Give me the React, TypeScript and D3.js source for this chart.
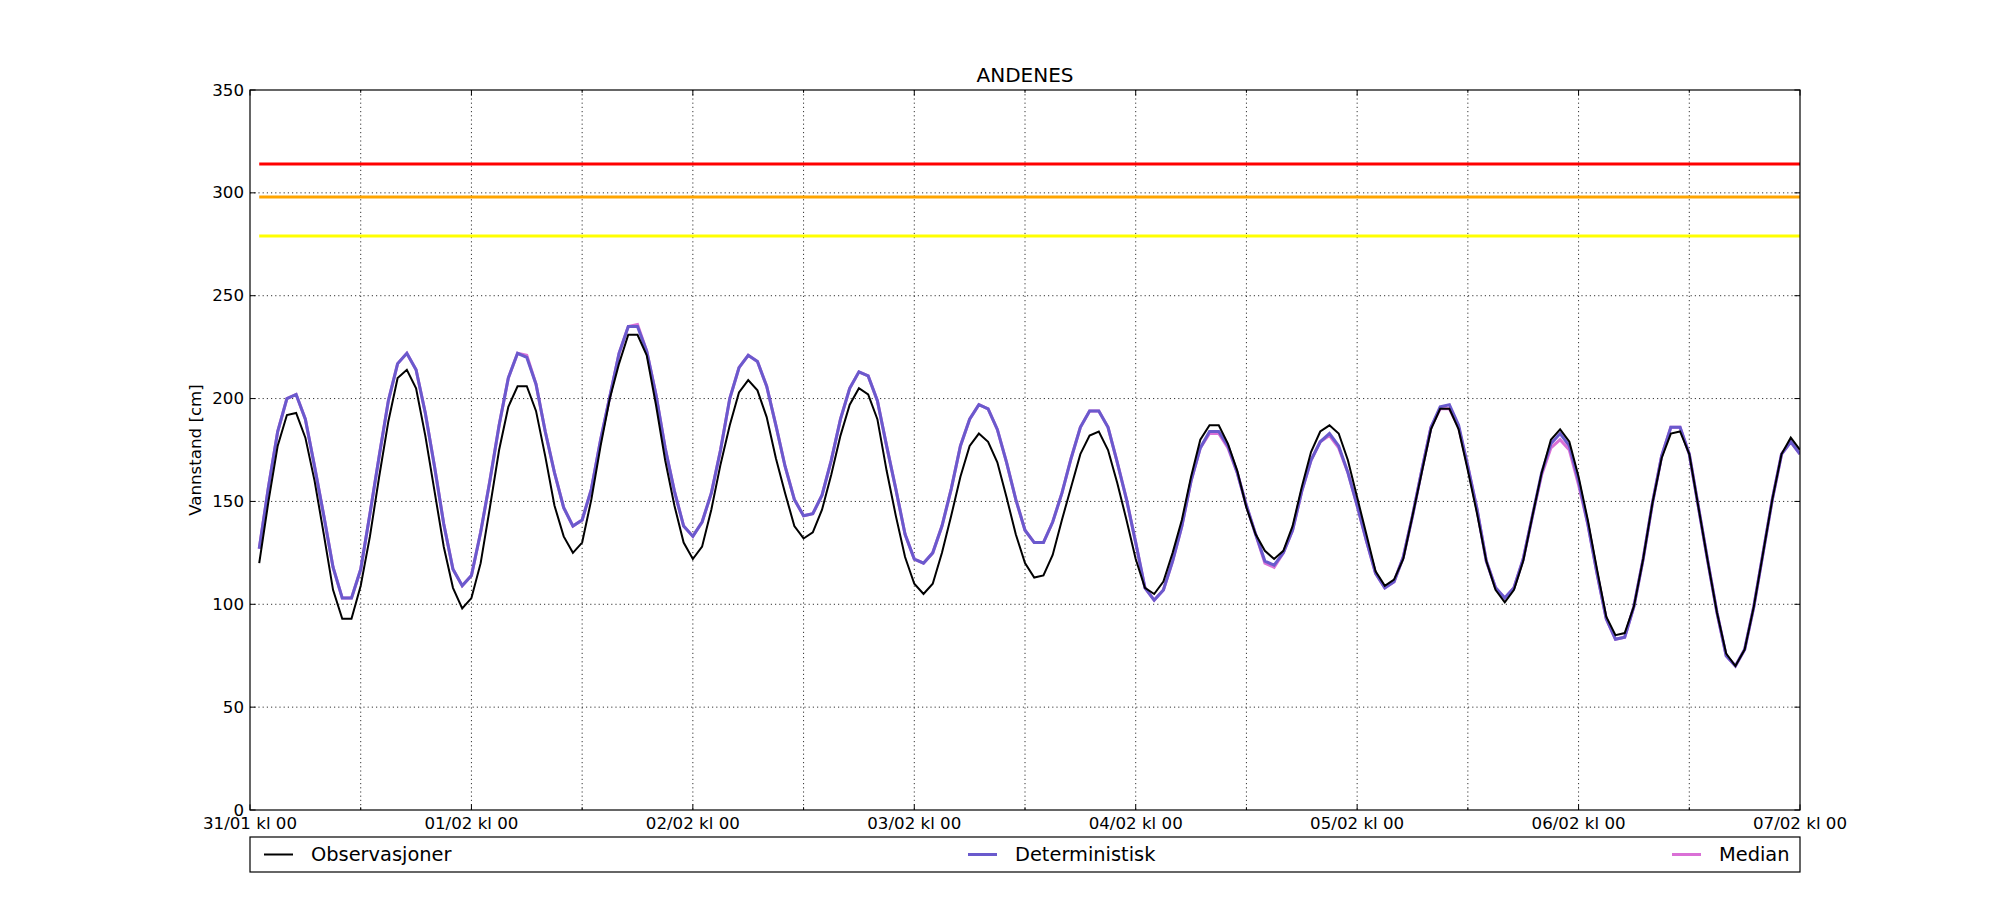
import React from 'react';
import * as d3 from 'd3';

const W = 2000;
const H = 900;
const START = Date.UTC(2016, 0, 31, 0); // 31/01 kl 00
const HOURS = d3.range(1, 169); // hourly values from kl 01 to 07/02 kl 00

const observasjoner = [
  120, 150, 177, 192, 193, 181, 160, 134, 107, 93, 93, 109, 133, 162, 189, 210, 214, 205, 182, 155, 128,
  108, 98, 103, 120, 147, 175, 196, 206, 206, 194, 172, 148, 133, 125, 130, 151, 177, 200, 217, 231, 231,
  221, 197, 170, 148, 130, 122, 128, 146, 168, 187, 203, 209, 204, 191, 171, 154, 138, 132, 135, 146, 163,
  182, 197, 205, 202, 190, 165, 143, 123, 110, 105, 110, 125, 143, 162, 177, 183, 179, 169, 152, 134, 120,
  113, 114, 124, 141, 157, 173, 182, 184, 175, 159, 141, 122, 108, 105, 111, 125, 141, 162, 180, 187, 187,
  178, 165, 147, 134, 126, 122, 126, 138, 157, 174, 184, 187, 183, 170, 152, 134, 116, 109, 112, 122, 143,
  164, 185, 195, 195, 185, 165, 144, 121, 107, 101, 107, 121, 143, 164, 180, 185, 179, 162, 141, 117, 94,
  85, 86, 99, 122, 149, 171, 183, 184, 173, 147, 121, 96, 76, 70, 78, 99, 125, 151, 173, 181, 175,
];

const deterministisk = [
  127, 157, 184, 200, 202, 190, 167, 143, 118, 103, 103, 117, 144, 172, 199, 217, 222, 214, 193, 167, 139,
  117, 109, 114, 135, 160, 187, 210, 222, 220, 207, 184, 164, 147, 138, 141, 156, 180, 201, 222, 235, 235,
  223, 202, 176, 155, 138, 133, 140, 154, 175, 200, 215, 221, 218, 206, 187, 167, 151, 143, 144, 153, 170,
  190, 205, 213, 211, 199, 177, 156, 134, 122, 120, 125, 138, 156, 177, 190, 197, 195, 185, 169, 151, 136,
  130, 130, 140, 154, 171, 186, 194, 194, 186, 169, 151, 130, 108, 102, 107, 121, 138, 160, 176, 184, 184,
  177, 164, 148, 134, 121, 119, 125, 136, 155, 170, 179, 183, 177, 164, 148, 131, 115, 108, 111, 123, 143,
  165, 186, 196, 197, 187, 167, 146, 121, 108, 103, 108, 122, 143, 164, 178, 183, 177, 160, 139, 115, 93,
  83, 84, 99, 122, 149, 172, 186, 186, 173, 147, 121, 96, 75, 70, 78, 99, 125, 151, 173, 179, 173,
];

const median = [
  127, 157, 184, 200, 202, 190, 167, 143, 118, 103, 103, 117, 144, 172, 199, 217, 222, 214, 193, 167, 139,
  117, 109, 114, 135, 160, 187, 210, 222, 221, 207, 184, 164, 147, 138, 141, 156, 180, 201, 222, 235, 236,
  223, 202, 176, 155, 138, 133, 140, 154, 175, 200, 215, 221, 218, 206, 187, 167, 151, 143, 144, 153, 170,
  190, 205, 213, 211, 199, 177, 156, 134, 122, 120, 125, 138, 156, 177, 190, 197, 195, 185, 169, 151, 136,
  130, 130, 140, 154, 171, 186, 194, 194, 186, 169, 151, 130, 108, 102, 107, 121, 138, 160, 176, 183, 183,
  176, 164, 148, 134, 120, 118, 125, 136, 155, 170, 179, 182, 176, 164, 148, 131, 115, 108, 111, 123, 143,
  165, 186, 195, 195, 186, 167, 146, 121, 108, 103, 108, 122, 143, 163, 176, 180, 175, 158, 139, 115, 93,
  83, 84, 99, 122, 149, 172, 186, 186, 173, 147, 121, 96, 75, 70, 78, 99, 125, 151, 173, 179, 173,
];

const thresholdValues = [314, 298, 279];
const thresholdColors = ['#ff0000', '#ffa500', '#ffff00'];

const yTicks = [0, 50, 100, 150, 200, 250, 300, 350];
const title = 'ANDENES';
const yLabel = 'Vannstand [cm]';
const legendLabels = ['Observasjoner', 'Deterministisk', 'Median'];
const legendColors = ['#000000', '#6a5acd', '#da70d6'];

const FONT = 'DejaVu Sans, sans-serif';

export default function App() {
  const L = 250, R = 1800, T = 90, B = 810;
  const t0 = new Date(START);
  const t1 = new Date(START + 168 * 3600e3);
  const x = d3.scaleUtc().domain([t0, t1]).range([L, R]);
  const y = d3.scaleLinear().domain([0, 350]).range([B, T]);
  const times = HOURS.map((h) => new Date(START + h * 3600e3));

  const mkLine = (vals: number[]) =>
    d3.line<number>().x((_, i) => x(times[i])).y((v) => y(v))(vals) || '';

  const majorTicks = d3.utcDay.range(t0, new Date(+t1 + 1));
  const minorTicks = d3.utcHour.every(12)!
    .range(t0, new Date(+t1 + 1))
    .filter((d) => d.getUTCHours() !== 0);
  const fmt = d3.utcFormat('%d/%m kl %H');

  const dash = '1.2,3';
  const major = 5.6;
  const minor = 2.8;

  const colX = (i: number) => 264 + i * 704;
  const legTop = 837, legBot = 872;
  const legMid = (legTop + legBot) / 2;

  return (
    <svg width={W} height={H} style={{ position: 'absolute', left: 0, top: 0, background: '#fff' }}
      fontFamily={FONT}>
      <rect x={0} y={0} width={W} height={H} fill="#ffffff" />
      <defs>
        <clipPath id="plot">
          <rect x={L} y={T} width={R - L} height={B - T} />
        </clipPath>
      </defs>
      {/* grid */}
      <g stroke="#000" strokeWidth={0.8} strokeDasharray={dash}>
        {yTicks.slice(1, -1).map((v) => (
          <line key={'gy' + v} x1={L} x2={R} y1={y(v)} y2={y(v)} />
        ))}
        {[...majorTicks, ...minorTicks]
          .filter((d) => +d > +t0 && +d < +t1)
          .map((d) => (
            <line key={'gx' + +d} x1={x(d)} x2={x(d)} y1={T} y2={B} />
          ))}
      </g>
      <g clipPath="url(#plot)" fill="none" strokeLinejoin="miter">
        {thresholdValues.map((v, i) => (
          <path key={'th' + i}
            d={d3.line<Date>().x((d) => x(d)).y(() => y(v))([times[0], times[times.length - 1]]) || ''}
            stroke={thresholdColors[i]} strokeWidth={3} />
        ))}
        <path d={mkLine(median)} stroke={legendColors[2]} strokeWidth={3} />
        <path d={mkLine(deterministisk)} stroke={legendColors[1]} strokeWidth={3} />
        <path d={mkLine(observasjoner)} stroke={legendColors[0]} strokeWidth={2} />
      </g>
      {/* spines */}
      <rect x={L} y={T} width={R - L} height={B - T} fill="none" stroke="#000" strokeWidth={1.2} />
      {/* y ticks */}
      <g stroke="#000" strokeWidth={1}>
        {yTicks.map((v) => (
          <g key={'yt' + v}>
            <line x1={L} x2={L + major} y1={y(v)} y2={y(v)} />
            <line x1={R} x2={R - major} y1={y(v)} y2={y(v)} />
          </g>
        ))}
        {majorTicks.map((d) => (
          <g key={'xt' + +d}>
            <line x1={x(d)} x2={x(d)} y1={B} y2={B - major} />
            <line x1={x(d)} x2={x(d)} y1={T} y2={T + major} />
          </g>
        ))}
        {minorTicks.map((d) => (
          <g key={'xm' + +d}>
            <line x1={x(d)} x2={x(d)} y1={B} y2={B - minor} />
            <line x1={x(d)} x2={x(d)} y1={T} y2={T + minor} />
          </g>
        ))}
      </g>
      {/* tick labels */}
      <g fontSize={16.67} fill="#000">
        {yTicks.map((v) => (
          <text key={'yl' + v} x={L - 6} y={y(v)} textAnchor="end" dominantBaseline="central">{v}</text>
        ))}
        {majorTicks.map((d) => (
          <text key={'xl' + +d} x={x(d)} y={B + 18.5} textAnchor="middle">{fmt(d)}</text>
        ))}
      </g>
      <text x={(L + R) / 2} y={82} textAnchor="middle" fontSize={20}>{title}</text>
      <text transform={`translate(${201},${(T + B) / 2}) rotate(-90)`} textAnchor="middle" fontSize={16.67}>
        {yLabel}
      </text>
      {/* legend */}
      <rect x={L} y={legTop} width={R - L} height={legBot - legTop} fill="#fff" stroke="#000" strokeWidth={1.2} />
      {legendLabels.map((lab, i) => (
        <g key={'lg' + i}>
          <line x1={colX(i)} x2={colX(i) + 29} y1={legMid} y2={legMid} stroke={legendColors[i]}
            strokeWidth={i === 0 ? 2 : 3} />
          <text x={colX(i) + 47} y={legMid} dominantBaseline="central" fontSize={19.4}>{lab}</text>
        </g>
      ))}
    </svg>
  );
}
